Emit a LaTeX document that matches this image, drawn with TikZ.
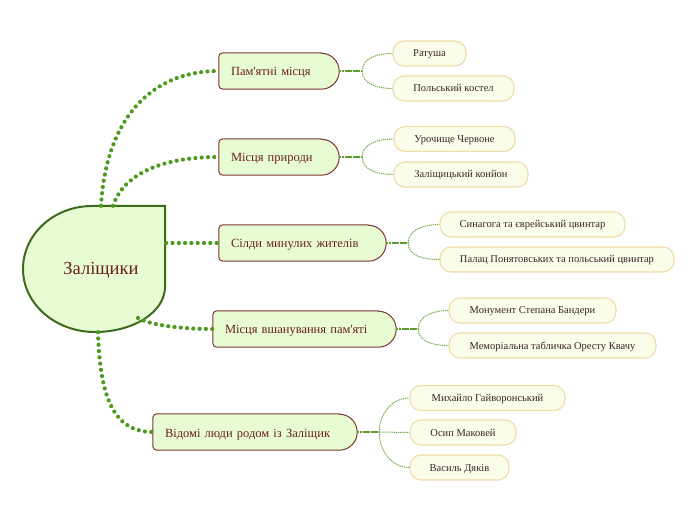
\documentclass[tikz,border=0pt]{standalone}
\usepackage{fontspec}
\setmainfont{Liberation Serif}
\usetikzlibrary{calc}
\definecolor{cfill}{HTML}{E8FCD4}
\definecolor{cborder}{HTML}{3D6A1C}
\definecolor{ctext}{HTML}{6B1F1F}
\definecolor{bborder}{HTML}{7B3535}
\definecolor{sfill}{HTML}{FAFDEA}
\definecolor{sborder}{HTML}{F0DCA8}
\definecolor{stext}{HTML}{3A2424}
\definecolor{mainline}{HTML}{4E9A1E}
\definecolor{subline}{HTML}{5E9E2E}
\pgfdeclarelayer{bg}
\pgfsetlayers{bg,main}
\tikzset{
  central/.style={rectangle, draw=none, minimum width=142, minimum height=126, inner sep=0},
  ctextstyle/.style={text=ctext, inner sep=0, text height=12, text depth=0, font=\fontsize{18.5}{20}\selectfont},
  branch/.style={rectangle, draw=none, minimum height=36, inner xsep=12, inner ysep=0, text height=10, text depth=0, align=left, text=ctext, font=\fontsize{12.5}{14}\selectfont},
  brline/.style={draw=bborder, line width=1, fill=cfill},
  sub/.style={rectangle, rounded corners=11, draw=sborder, line width=1.1, fill=sfill, minimum height=25, inner sep=0, text height=7, text depth=0, text=stext, font=\fontsize{10.5}{12}\selectfont},
  mainconn/.style={draw=mainline, line width=4.2, dash pattern=on 0pt off 6.3pt, line cap=round},
  subh/.style={draw=subline, line width=1.4, dash pattern=on 2.2pt off 0.5pt},
  subc/.style={draw=subline!85, line width=1, dash pattern=on 1.3pt off 0.8pt},
}
\newcommand\branchshape[1]{%
  \begin{pgfonlayer}{bg}
    \draw[brline] ($(#1.north east)+(-18,0)$) -- ([xshift=4]#1.north west)
      arc[start angle=90,end angle=180,radius=4] -- ([yshift=4]#1.south west)
      arc[start angle=180,end angle=270,radius=4] -- ($(#1.south east)+(-18,0)$)
      arc[start angle=-90,end angle=90,radius=18] -- cycle;
  \end{pgfonlayer}}
\begin{document}
\begin{tikzpicture}[x=1pt,y=1pt]
\useasboundingbox (0,0) rectangle (696,520);
% central
\fill[cfill, draw=cborder, line width=2] (165,314) -- (92,314)
  arc[start angle=90,end angle=180,x radius=69,y radius=63]
  arc[start angle=180,end angle=270,x radius=72,y radius=63]
  arc[start angle=270,end angle=360,x radius=70,y radius=45] -- cycle;
\node[central] (c) at (94,251) {};
\node[ctextstyle] (ct) at (101,251) {Заліщики};
% branches
\node[branch, text width=96] (b1) at (279,449) {Пам\textquotesingle ятні місця};
\node[branch, text width=96] (b2) at (279,363) {Місця природи};
\node[branch, text width=143] (b3) at (302.5,277) {Сілди минулих жителів};
\node[branch, text width=159] (b4) at (304.5,191) {Місця вшанування пам\textquotesingle яті};
\node[branch, text width=180] (b5) at (255,88) {Відомі люди родом із Заліщик};
\branchshape{b1}\branchshape{b2}\branchshape{b3}\branchshape{b4}\branchshape{b5}
% sub nodes
\node[sub, minimum width=73] (s11) at (429.5,466.5) {Ратуша};
\node[sub, minimum width=121] (s12) at (453.5,431.5) {Польський костел};
\node[sub, minimum width=121] (s21) at (454.5,381) {Урочище Червоне};
\node[sub, minimum width=134] (s22) at (461,345.5) {Заліщицький конйон};
\node[sub, minimum width=185] (s31) at (532.5,295.5) {Синагога та єврейський цвинтар};
\node[sub, minimum width=234] (s32) at (557,260.5) {Палац Понятовських та польський цвинтар};
\node[sub, minimum width=167] (s41) at (532.5,209.5) {Монумент Степана Бандери};
\node[sub, minimum width=207] (s42) at (552.5,174.5) {Меморіальна табличка Оресту Квачу};
\node[sub, minimum width=155] (s51) at (487.5,122) {Михайло Гайворонський};
\node[sub, minimum width=106] (s52) at (463,87.5) {Осип Маковей};
\node[sub, minimum width=99] (s53) at (459.5,52.5) {Василь Дяків};
% main connectors
\draw[mainconn] ([xshift=7]c.north) .. controls (106,400) and (150,449) .. (b1.west);
\draw[mainconn] ([xshift=19]c.north) .. controls (122,342) and (155,363) .. (b2.west);
\draw[mainconn] ($(c.east)+(1,26)$) .. controls (185,277) and (200,277) .. (b3.west);
\coordinate (c4) at (138,202);
\draw[mainconn] (c4) .. controls (150,195) and (180,191) .. (b4.west);
\draw[mainconn] ([xshift=4]c.south) .. controls (100,120) and (115,88) .. (b5.west);
% sub connectors
\coordinate (f1) at ($(b1.east)+(23,0)$);
\coordinate (f2) at ($(b2.east)+(23,0)$);
\coordinate (f3) at ($(b3.east)+(22,0)$);
\coordinate (f4) at ($(b4.east)+(22,0)$);
\coordinate (f5) at ($(b5.east)+(22,0)$);
\draw[subh] (b1.east) -- (f1);
\draw[subh] (b2.east) -- (f2);
\draw[subh] (b3.east) -- (f3);
\draw[subh] (b4.east) -- (f4);
\draw[subh] (b5.east) -- (f5);
\draw[subc] (f1) to[out=90,in=180] (s11.west);
\draw[subc] (f1) to[out=-90,in=180] (s12.west);
\draw[subc] (f2) to[out=90,in=180] (s21.west);
\draw[subc] (f2) to[out=-90,in=180] (s22.west);
\draw[subc] (f3) to[out=90,in=180] (s31.west);
\draw[subc] (f3) to[out=-90,in=180] (s32.west);
\draw[subc] (f4) to[out=90,in=180] (s41.west);
\draw[subc] (f4) to[out=-90,in=180] (s42.west);
\draw[subc] (f5) to[out=90,in=180] (s51.west);
\draw[subc] (f5) -- (s52.west);
\draw[subc] (f5) to[out=-90,in=180] (s53.west);
\end{tikzpicture}
\end{document}
